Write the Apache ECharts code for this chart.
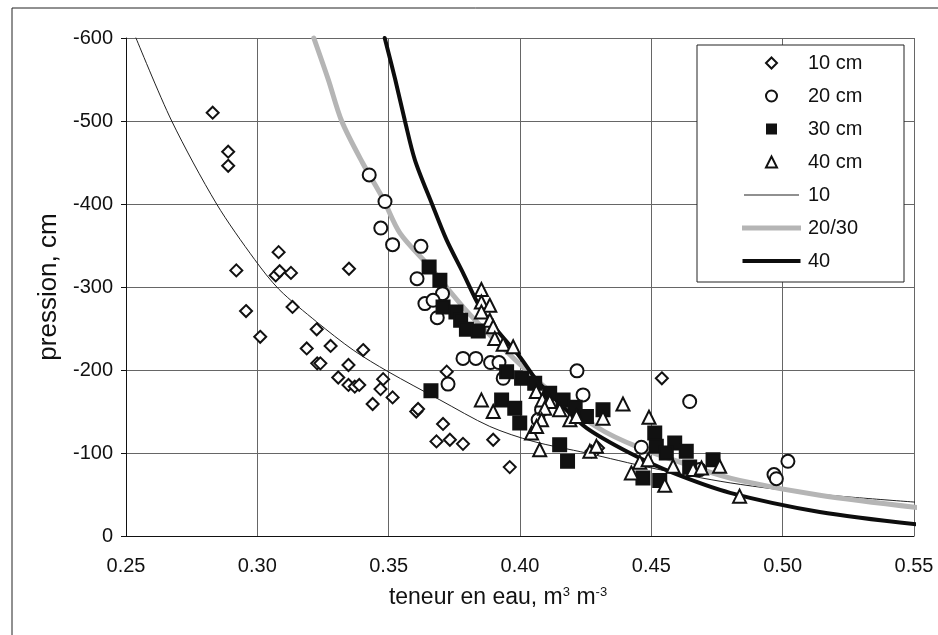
<!DOCTYPE html>
<html>
<head>
<meta charset="utf-8">
<script src="https://cdn.jsdelivr.net/npm/echarts@6/dist/echarts.min.js"></script>
<style>
html,body{margin:0;padding:0;background:#fff;}
#chart{width:938px;height:635px;}
</style>
</head>
<body>
<div id="chart"></div>
<script>
// ---- data ----
const xTicks = [0.25, 0.30, 0.35, 0.40, 0.45, 0.50, 0.55];
const yTicks = [-600, -500, -400, -300, -200, -100, 0];

const seriesNames = ['10 cm', '20 cm', '30 cm', '40 cm', '10', '20/30', '40'];

const pts10cm = [
  [0.2830,-510],[0.2889,-463],[0.2889,-446],[0.2920,-320],[0.2957,-271],[0.3011,-240],
  [0.3081,-342],[0.3070,-314],[0.3085,-319],[0.3128,-317],[0.3134,-276],[0.3188,-226],
  [0.3226,-249],[0.3279,-229],[0.3228,-208],[0.3240,-208],[0.3349,-322],[0.3403,-224],
  [0.3308,-191],[0.3347,-206],[0.3347,-182],[0.3371,-180],[0.3388,-182],[0.3479,-189],
  [0.3469,-177],[0.3439,-159],[0.3515,-167],[0.3605,-150],[0.3612,-153],[0.3707,-135],
  [0.3682,-114],[0.3733,-116],[0.3783,-111],[0.3898,-116],[0.3961,-83],[0.3721,-198],
  [0.4540,-190],[0.4272,-102],[0.4297,-106]
];
const pts20cm = [
  [0.3426,-435],[0.3486,-403],[0.3470,-371],[0.3515,-351],[0.3623,-349],[0.3608,-310],
  [0.3705,-292],[0.3638,-280],[0.3669,-284],[0.3685,-263],[0.3783,-214],[0.3832,-214],
  [0.3888,-209],[0.3920,-209],[0.3726,-183],[0.3936,-190],[0.4217,-199],[0.4240,-170],
  [0.4082,-152],[0.4069,-140],[0.4646,-162],[0.4462,-107],[0.4684,-80],[0.5020,-90],
  [0.4967,-74],[0.4976,-69]
];
const pts30cm = [
  [0.3654,-324],[0.3695,-308],[0.3707,-276],[0.3756,-270],[0.3774,-260],[0.3796,-249],
  [0.3841,-247],[0.3661,-175],[0.3949,-198],[0.4006,-190],[0.4056,-184],[0.4113,-172],
  [0.4164,-164],[0.4210,-155],[0.4253,-144],[0.3930,-164],[0.3980,-154],[0.3999,-136],
  [0.4151,-110],[0.4181,-90],[0.4316,-152],[0.4513,-124],[0.4519,-108],[0.4589,-112],
  [0.4557,-100],[0.4633,-102],[0.4646,-83],[0.4735,-92],[0.4468,-70],[0.4532,-67]
];
const pts40cm = [
  [0.3853,-297],[0.3853,-282],[0.3885,-278],[0.3853,-270],[0.3885,-260],[0.3898,-252],
  [0.3904,-238],[0.3936,-231],[0.3974,-228],[0.3853,-164],[0.3898,-150],[0.4044,-124],
  [0.4075,-104],[0.4062,-174],[0.4085,-164],[0.4113,-162],[0.4151,-152],[0.4094,-154],
  [0.4190,-140],[0.4215,-144],[0.4082,-140],[0.4063,-132],[0.4266,-102],[0.4291,-108],
  [0.4316,-142],[0.4392,-159],[0.4491,-143],[0.4424,-76],[0.4456,-89],[0.4488,-92],
  [0.4551,-61],[0.4583,-84],[0.4659,-80],[0.4691,-82],[0.4760,-84],[0.4836,-48]
];
const curve10 = [
  [0.2538,-600],[0.2674,-500],[0.2845,-400],[0.2990,-333],[0.3083,-297],[0.3226,-258],
  [0.3365,-224],[0.3498,-198],[0.3695,-164],[0.3885,-132],[0.4050,-114],[0.4253,-100],
  [0.4500,-82],[0.4800,-64],[0.5150,-50],[0.5540,-40]
];
const curve2030 = [
  [0.3215,-600],[0.3270,-550],[0.3321,-500],[0.3400,-450],[0.3479,-406],[0.3543,-365],
  [0.3657,-324],[0.3800,-270],[0.3950,-222],[0.4100,-178],[0.4294,-131],[0.4450,-107],
  [0.4684,-81],[0.4836,-67],[0.5141,-49],[0.5547,-33]
];
const curve40 = [
  [0.3485,-600],[0.3525,-550],[0.3562,-500],[0.3600,-453],[0.3665,-400],[0.3720,-357],
  [0.3783,-317],[0.3847,-276],[0.3923,-244],[0.3999,-216],[0.4063,-188],[0.4150,-160],
  [0.4254,-130],[0.4418,-100],[0.4583,-76],[0.4800,-52],[0.5141,-29],[0.5540,-13]
];

// ---- chart ----
const FONT = 'Liberation Sans, Arial, sans-serif';
const chart = echarts.init(document.getElementById('chart'), null, {renderer: 'canvas'});

function scatter(name, data, symbol, fill, size) {
  return {
    name, type: 'scatter', data, symbol, symbolSize: size,
    itemStyle: {color: fill, borderColor: '#111', borderWidth: 2, opacity: 1},
    emphasis: {disabled: true}, z: 3
  };
}
function curve(name, data, color, width, z) {
  return {
    name, type: 'line', data, smooth: 0.3, showSymbol: false, symbol: 'none',
    lineStyle: {color, width, cap: 'round'}, itemStyle: {color},
    clip: false, z, emphasis: {disabled: true}
  };
}
const LINE_ICON = 'path://M0,0H55V1H0Z';
const DIAMOND_ICON = 'path://M5,0L10,5L5,10L0,5Z';
const CIRCLE_ICON = 'path://M5,0A5,5,0,1,1,5,10A5,5,0,1,1,5,0Z';
const SQUARE_ICON = 'path://M0,0H10V10H0Z';
const TRIANGLE_ICON = 'path://M5,0L10,10L0,10Z';

const option = {
  backgroundColor: '#fff',
  animation: false,
  textStyle: {fontFamily: FONT},
  grid: {left: 126, right: 24, top: 38, bottom: 99, containLabel: false},
  xAxis: {
    type: 'value', min: xTicks[0], max: xTicks[xTicks.length - 1], interval: 0.05,
    name: 'teneur en eau, m{sup|3} m{sup|-3}', nameLocation: 'middle', nameGap: 50,
    nameTextStyle: {
      fontSize: 23, color: '#111', fontFamily: FONT, padding: [0, 44, 0, 0],
      rich: {sup: {fontSize: 13, verticalAlign: 'top', padding: [0, 0, 11, 0], color: '#111', fontFamily: FONT}}
    },
    axisLine: {show: true, lineStyle: {color: '#111', width: 1}},
    axisTick: {show: false},
    axisLabel: {fontSize: 20, color: '#111', margin: 20, fontFamily: FONT, formatter: v => v.toFixed(2)},
    splitLine: {show: true, lineStyle: {color: '#666', width: 1}}
  },
  yAxis: {
    type: 'value', min: yTicks[0], max: yTicks[yTicks.length - 1], interval: 100, inverse: true,
    name: 'pression, cm', nameLocation: 'middle', nameGap: 53, nameRotate: 90,
    nameTextStyle: {fontSize: 26, color: '#111', fontFamily: FONT},
    axisLine: {show: true, lineStyle: {color: '#111', width: 1}},
    axisTick: {show: true, inside: false, length: 5, lineStyle: {color: '#111'}},
    axisLabel: {fontSize: 20, color: '#111', margin: 13, fontFamily: FONT},
    splitLine: {show: true, lineStyle: {color: '#666', width: 1}}
  },
  legend: {
    orient: 'vertical', left: 742, top: 53, padding: 0,
    itemWidth: 55, itemHeight: 11, itemGap: 13, symbolKeepAspect: true,
    textStyle: {fontSize: 20, color: '#111', fontFamily: FONT, lineHeight: 11, padding: [0, 0, 0, 4]},
    selectedMode: false, z: 6,
    data: [
      {name: seriesNames[0], icon: DIAMOND_ICON, itemStyle: {color: '#fff', borderColor: '#111', borderWidth: 2}},
      {name: seriesNames[1], icon: CIRCLE_ICON, itemStyle: {color: '#fff', borderColor: '#111', borderWidth: 2}},
      {name: seriesNames[2], icon: SQUARE_ICON, itemStyle: {color: '#111', borderColor: '#111', borderWidth: 0}},
      {name: seriesNames[3], icon: TRIANGLE_ICON, itemStyle: {color: '#fff', borderColor: '#111', borderWidth: 2}},
      {name: seriesNames[4], icon: LINE_ICON, itemStyle: {color: '#222', borderColor: '#222', borderWidth: 0}},
      {name: seriesNames[5], icon: LINE_ICON, itemStyle: {color: '#b5b5b5', borderColor: '#b5b5b5', borderWidth: 4}},
      {name: seriesNames[6], icon: LINE_ICON, itemStyle: {color: '#0d0d0d', borderColor: '#0d0d0d', borderWidth: 3}}
    ]
  },
  graphic: [
    {type: 'rect', shape: {x: 12, y: 8, width: 940, height: 640}, style: {fill: null, stroke: '#222', lineWidth: 1}, z: 1, silent: true},
    {type: 'rect', shape: {x: 697, y: 45, width: 207, height: 237}, style: {fill: '#fff', stroke: '#222', lineWidth: 1}, z: 5, silent: true}
  ],
  series: [
    curve(seriesNames[4], curve10, '#222', 1, 2),
    curve(seriesNames[5], curve2030, '#b5b5b5', 5, 2),
    curve(seriesNames[6], curve40, '#0d0d0d', 4, 2),
    scatter(seriesNames[0], pts10cm, 'diamond', '#fff', 12),
    scatter(seriesNames[1], pts20cm, 'circle', '#fff', 13),
    scatter(seriesNames[2], pts30cm, 'rect', '#111', 13),
    scatter(seriesNames[3], pts40cm, 'triangle', '#fff', 13)
  ]
};
chart.setOption(option);
</script>
</body>
</html>
